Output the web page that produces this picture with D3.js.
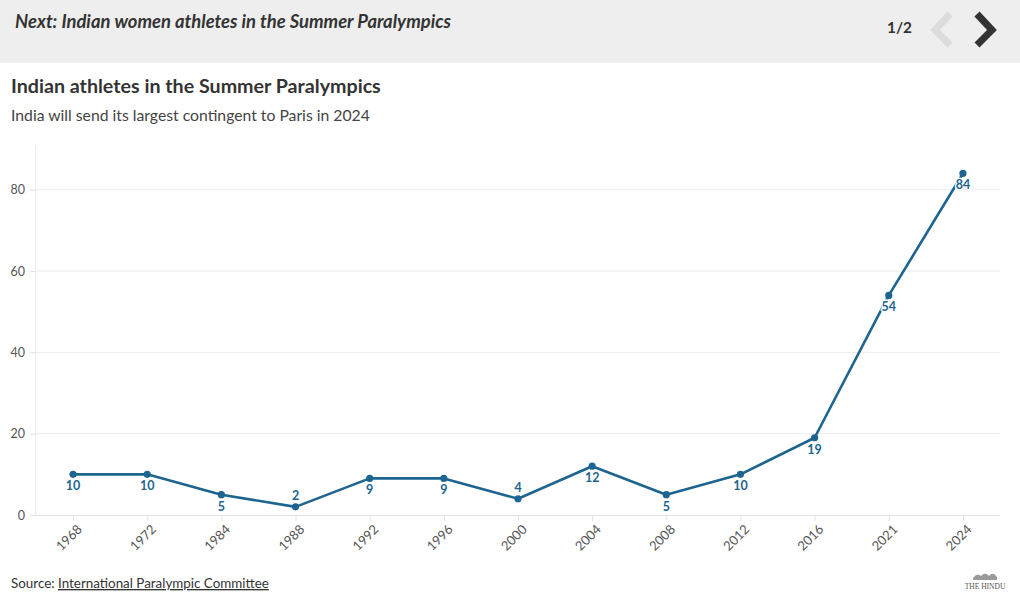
<!DOCTYPE html>
<html><head><meta charset="utf-8">
<script src="https://cdn.jsdelivr.net/npm/d3@7"></script>
<style>
body{margin:0;background:#fff;}
svg{display:block;font-family:Lato,"Noto Sans",sans-serif;}
</style></head>
<body><svg id="c" width="1020" height="606"></svg>
<script>
const years = ["1968","1972","1984","1988","1992","1996","2000","2004","2008","2012","2016","2021","2024"];
const athletes = [10,10,5,2,9,9,4,12,5,10,19,54,84];
const labelAbove = ["1988","2000"];
const yTicks = [0,20,40,60,80];

(function(){
const svg = d3.select("#c");
const W=1020,H=606;
const pl=36,pr=1000,pt=145,pb=515;
const blue="#1d6590";

// header band
svg.append("rect").attr("x",0).attr("y",0).attr("width",W).attr("height",63).attr("fill","#eeeeee");

function fit(sel,target){
  const n=sel.node(); let fs=parseFloat(sel.attr("font-size"));
  const w=n.getComputedTextLength(); if(w>0){sel.attr("font-size",(fs*target/w).toFixed(2));}
  return sel;
}
fit(svg.append("text").attr("x",15).attr("y",28).attr("font-size",17).attr("font-weight","bold").attr("font-style","italic")
  .attr("fill","#333").text("Next: Indian women athletes in the Summer Paralympics"),436);
fit(svg.append("text").attr("x",887).attr("y",33).attr("font-size",17).attr("font-weight","bold").attr("fill","#333").text("1/2"),25);
svg.append("path").attr("d","M950,14 L935,30 L950,45").attr("fill","none").attr("stroke","#dcdcdc").attr("stroke-width",7);
svg.append("path").attr("d","M977,14 L992,30 L977,45").attr("fill","none").attr("stroke","#333").attr("stroke-width",7);

fit(svg.append("text").attr("x",11).attr("y",93).attr("font-size",19).attr("font-weight","bold").attr("fill","#333")
  .text("Indian athletes in the Summer Paralympics"),370);
fit(svg.append("text").attr("x",11).attr("y",121).attr("font-size",15).attr("fill","#444")
  .text("India will send its largest contingent to Paris in 2024"),359);

const x = d3.scalePoint().domain(years).range([pl,pr]).padding(0.5);
const y = d3.scaleLinear().domain([0,91]).range([pb,pt]);

// gridlines
svg.append("g").selectAll("line").data(yTicks.filter(d=>d>0)).join("line")
  .attr("x1",pl).attr("x2",pr).attr("y1",d=>y(d)).attr("y2",d=>y(d))
  .attr("stroke","#ececec").attr("stroke-width",1);

// y axis
const ya = svg.append("g").attr("transform",`translate(${pl},0)`)
  .call(d3.axisLeft(y).tickValues(yTicks).tickSize(6).tickPadding(5));
ya.select(".domain").attr("stroke","#ececec").attr("d",`M-0.5,${pt}V${pb}`);
ya.selectAll(".tick line").attr("stroke","#e2e2e2");
ya.selectAll("text").attr("font-size",12.5).attr("fill","#555").attr("font-family",'Lato,"Noto Sans",sans-serif');

// x axis
const xa = svg.append("g").attr("transform",`translate(0,${pb})`)
  .call(d3.axisBottom(x).tickSize(6).tickPadding(5));
xa.select(".domain").attr("stroke","#e2e2e2").attr("d",`M${pl},0.5H${pr}`);
xa.selectAll(".tick line").attr("stroke","#e2e2e2");
xa.selectAll("text").attr("font-size",13).attr("fill","#555").attr("font-family",'Lato,"Noto Sans",sans-serif')
  .attr("text-anchor","end").attr("x",0).attr("y",0).attr("dy","0.35em").attr("transform","translate(6,12) rotate(-45)");

const data = years.map((yr,i)=>({yr,v:athletes[i]}));
svg.append("path").datum(data)
  .attr("d",d3.line().x(d=>x(d.yr)).y(d=>y(d.v)))
  .attr("fill","none").attr("stroke",blue).attr("stroke-width",2.6).attr("stroke-linejoin","round");
svg.append("g").selectAll("circle").data(data).join("circle")
  .attr("cx",d=>x(d.yr)).attr("cy",d=>y(d.v)).attr("r",3.6).attr("fill",blue);

svg.append("g").selectAll("text").data(data).join("text")
  .attr("x",d=>x(d.yr)).attr("y",d=>labelAbove.includes(d.yr)? y(d.v)-7 : y(d.v)+16)
  .attr("text-anchor","middle").attr("font-size",12.5).attr("font-weight","bold").attr("fill",blue)
  .attr("stroke","#fff").attr("stroke-width",3).attr("paint-order","stroke").attr("stroke-linejoin","round")
  .text(d=>d.v);

// source
const src = svg.append("text").attr("x",11).attr("y",588).attr("font-size",13).attr("fill","#333");
src.append("tspan").text("Source: ");
src.append("tspan").attr("text-decoration","underline").text("International Paralympic Committee");
fit(src,258);

// logo
svg.append("path").attr("d","M973,578 q4,-6 8,-2 q4,-5 8,0 q4,-5 8,1 l0,3 l-24,0 z").attr("fill","#9a9a9a");
svg.append("text").attr("x",985).attr("y",589).attr("text-anchor","middle").attr("font-size",7.5)
  .attr("font-family","'Liberation Serif',serif").attr("fill","#555").text("THE HINDU");
})();
</script></body></html>
